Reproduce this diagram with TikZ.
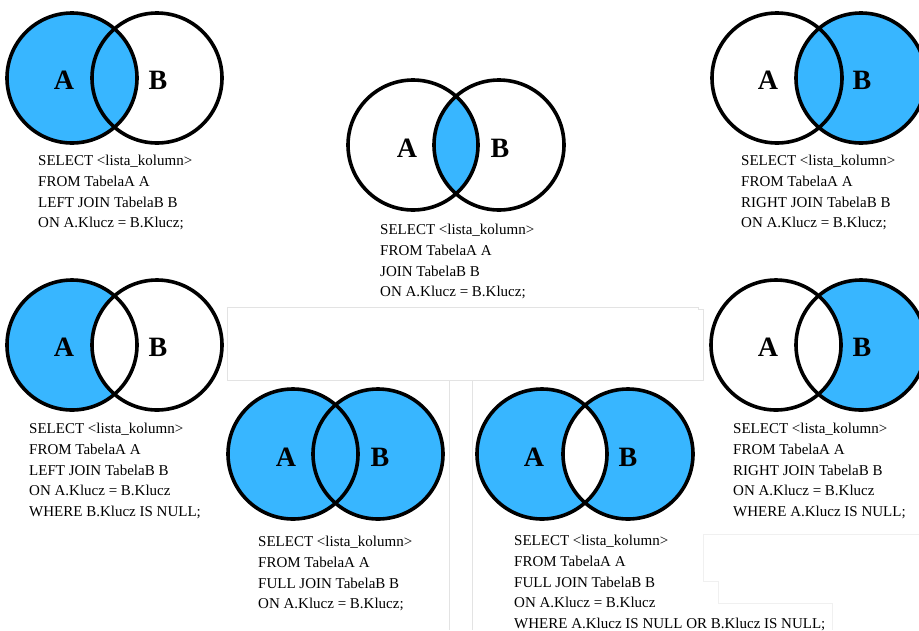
\documentclass[tikz,border=0pt]{standalone}
\usepackage{fontspec}
\setmainfont{Liberation Serif}
\definecolor{vblue}{RGB}{56,182,255}
\tikzset{
  ring/.style={draw=black,line width=3.6pt},
  lbl/.style={font=\fontsize{28}{30}\selectfont\bfseries, inner sep=0pt},
  sql/.style={font=\fontsize{15}{20.7}\selectfont, align=left, anchor=north west, inner sep=0pt},
  faint/.style={draw=black!11,line width=0.8pt},
  fainter/.style={draw=black!6,line width=0.8pt}
}
\begin{document}
\begin{tikzpicture}[x=1pt,y=-1pt]
\useasboundingbox (0,0) rectangle (919,630);
% faint background lines
\draw[faint] (227,307) -- (698,307) -- (698,309) -- (703,309) -- (703,380) -- (227,380) -- cycle;
\draw[faint] (449,380) -- (449,630);
\draw[faint] (472,380) -- (472,630);
\draw[fainter] (703,534) -- (919,534);
\draw[fainter] (703,534) -- (703,581) -- (718,581) -- (718,603) -- (832,603) -- (832,630);
% centres
\coordinate (a1) at (72,78);   \coordinate (b1) at (157,78);
\coordinate (a2) at (413,145); \coordinate (b2) at (499,145);
\coordinate (a3) at (777,78);  \coordinate (b3) at (861,78);
\coordinate (a4) at (72,345);  \coordinate (b4) at (157,345);
\coordinate (a5) at (776,345); \coordinate (b5) at (861,345);
\coordinate (a6) at (293,454); \coordinate (b6) at (378,454);
\coordinate (a7) at (542,454); \coordinate (b7) at (628,454);
% 1: left join
\fill[vblue] (a1) circle (65pt);
\draw[ring] (a1) circle (65pt) (b1) circle (65pt);
% 2: inner join
\begin{scope}
  \clip (a2) circle (65pt);
  \fill[vblue] (b2) circle (65pt);
\end{scope}
\draw[ring] (a2) circle (65pt) (b2) circle (65pt);
% 3: right join
\fill[vblue] (b3) circle (65pt);
\draw[ring] (a3) circle (65pt) (b3) circle (65pt);
% 4: left only
\fill[vblue] (a4) circle (65pt);
\fill[white] (b4) circle (65pt);
\draw[ring] (a4) circle (65pt) (b4) circle (65pt);
% 5: right only
\fill[vblue] (b5) circle (65pt);
\fill[white] (a5) circle (65pt);
\draw[ring] (a5) circle (65pt) (b5) circle (65pt);
% 6: full join
\fill[vblue] (a6) circle (65pt) (b6) circle (65pt);
\draw[ring] (a6) circle (65pt) (b6) circle (65pt);
% 7: full outer excluding
\fill[vblue, even odd rule] (a7) circle (65pt) (b7) circle (65pt);
\draw[ring] (a7) circle (65pt) (b7) circle (65pt);
% labels
\node[lbl] (la1) at (64,80) {A};   \node[lbl] (lb1) at (158,80) {B};
\node[lbl] (la2) at (407,148) {A}; \node[lbl] (lb2) at (500,148) {B};
\node[lbl] (la3) at (768,80) {A};  \node[lbl] (lb3) at (862,80) {B};
\node[lbl] (la4) at (64,347) {A};  \node[lbl] (lb4) at (158,347) {B};
\node[lbl] (la5) at (768,347) {A}; \node[lbl] (lb5) at (862,347) {B};
\node[lbl] (la6) at (286,457) {A}; \node[lbl] (lb6) at (380,457) {B};
\node[lbl] (la7) at (534,457) {A}; \node[lbl] (lb7) at (628,457) {B};
% SQL texts
\node[sql] (t1) at (38,155) {SELECT <lista\_kolumn>\\FROM TabelaA A\\LEFT JOIN TabelaB B\\ON A.Klucz = B.Klucz;};
\node[sql] (t2) at (380,224) {SELECT <lista\_kolumn>\\FROM TabelaA A\\JOIN TabelaB B\\ON A.Klucz = B.Klucz;};
\node[sql] (t3) at (741,155) {SELECT <lista\_kolumn>\\FROM TabelaA A\\RIGHT JOIN TabelaB B\\ON A.Klucz = B.Klucz;};
\node[sql] (t4) at (29,423) {SELECT <lista\_kolumn>\\FROM TabelaA A\\LEFT JOIN TabelaB B\\ON A.Klucz = B.Klucz\\WHERE B.Klucz IS NULL;};
\node[sql] (t5) at (733,423) {SELECT <lista\_kolumn>\\FROM TabelaA A\\RIGHT JOIN TabelaB B\\ON A.Klucz = B.Klucz\\WHERE A.Klucz IS NULL;};
\node[sql] (t6) at (258,536) {SELECT <lista\_kolumn>\\FROM TabelaA A\\FULL JOIN TabelaB B\\ON A.Klucz = B.Klucz;};
\node[sql] (t7) at (514,535) {SELECT <lista\_kolumn>\\FROM TabelaA A\\FULL JOIN TabelaB B\\ON A.Klucz = B.Klucz\\WHERE A.Klucz IS NULL OR B.Klucz IS NULL;};
\end{tikzpicture}
\end{document}
